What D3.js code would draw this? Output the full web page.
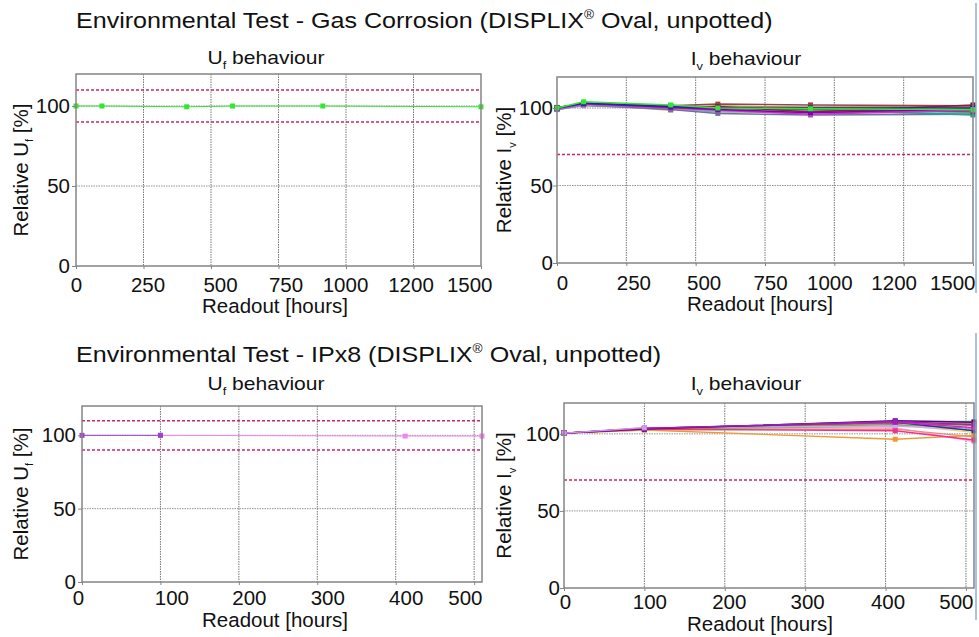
<!DOCTYPE html>
<html>
<head>
<meta charset="utf-8">
<script src="https://cdn.jsdelivr.net/npm/d3@7"></script>
<style>
  html, body { margin: 0; padding: 0; background: #fff; }
  svg { display: block; font-family: "Liberation Sans", Arial, Helvetica, sans-serif; }
</style>
</head>
<body>
<svg id="chart" width="979" height="637"></svg>
<script>
// ---------------- DATA ----------------
const titles = [
  "Environmental Test - Gas Corrosion (DISPLIX",
  "Environmental Test - IPx8 (DISPLIX"
];
const titleTail = " Oval, unpotted)";

const yTicks = [0, 50, 100];
const ufLimits = [90, 110];
const ivLimits = [70];

// Gas corrosion test
const gasReadouts = [0, 96, 410, 580, 914, 1500];
const gasXTicks = [0, 250, 500, 750, 1000, 1250, 1500];
const gasXTickLabels = ["0", "250", "500", "750", "1000", "1200", "1500"];

const gasUfColors = ["#33e633"];
const gasUfValues = [
  [100, 100, 99.5, 100, 100, 99.5]
];

const gasIvColors = ["#999999", "#66cccc", "#ccaa77", "#dd9944", "#999944", "#667799",
  "#339999", "#dd88aa", "#aa88cc", "#336633", "#994444", "#882244", "#cc33cc",
  "#8800aa", "#2222aa", "#33e633"];
const gasIvValues = [
  [99, 101.5, 99.5, 97.5, 97.5, 96.5],
  [99, 102, 100, 98, 98, 97],
  [100.5, 102.5, 98.5, 101.5, 100, 99],
  [100, 102.5, 99.5, 100.5, 100.5, 100.5],
  [100, 103, 100, 101, 100.5, 101],
  [99, 102, 99, 96.5, 95.5, 96],
  [99.5, 102.5, 101, 99.5, 99, 95.5],
  [100, 103, 101, 99, 98.5, 98],
  [99.5, 102, 100.5, 99.5, 98, 99],
  [100, 102.5, 101, 100, 99, 97.5],
  [100, 103, 101.5, 102.5, 102, 101.5],
  [100, 103, 101, 101, 97.5, 102],
  [99.5, 102.5, 100, 98.5, 96, 98.5],
  [100, 103, 100.5, 99, 97, 99.5],
  [100, 103, 101, 100, 100, 100],
  [100, 104, 102, 100, 99.5, 99]
];

// IPx8 test
const ipReadouts = [0, 100, 412, 510];
const ipXTicks = [0, 100, 200, 300, 400, 500];
const ipXTickLabels = ["0", "100", "200", "300", "400", "500"];

const ipUfColors = ["#ee88ee", "#9944cc"];
const ipUfValues = [
  [null, 100, 99.5, 99.5],
  [100, 100, null, null]
];

const ipIvColors = ["#ffaacc", "#ee8888", "#dddd66", "#ee9933", "#888888", "#66bb66",
  "#44aaaa", "#996633", "#aa9922", "#ccaaee", "#333388", "#ee3388", "#cc22cc",
  "#660077", "#9922bb", "#cc99ee"];
const ipIvValues = [
  [100.5, 103, 104, 95],
  [100.5, 102.5, 103, 98],
  [100.5, 103, 106, 101],
  [100.5, 102.5, 96.5, 99],
  [100.5, 103, 106, 103.5],
  [100.5, 103, 105, 106.5],
  [100.5, 103.5, 108, 108],
  [100.5, 103, 107, 105.5],
  [100.5, 103, 107, 107],
  [100.5, 104, 105, 102.5],
  [100.5, 103.5, 107.5, 102],
  [100.5, 103, 102, 96],
  [100.5, 103.5, 107.5, 104],
  [100.5, 103, 108.5, 107.5],
  [100.5, 103.5, 108, 106],
  [100.5, 104, null, null]
];

// ---------------- DRAWING ----------------
const svg = d3.select("#chart");
const FONT_TICK = 20.5, FONT_AX = 20.5, FONT_SUB = 18;
const LIMIT_COLOR = "#d0206e";
const WIDE = 1.14;   // headline font is wider than Liberation Sans

// Main titles
function addTitle(txt, y) {
  const t = svg.append("text").attr("transform", `translate(76,${y}) scale(${WIDE},1)`)
    .attr("font-size", 22).attr("fill", "#111");
  t.append("tspan").text(txt);
  t.append("tspan").attr("font-size", 12).attr("dy", -9).text("®");
  t.append("tspan").attr("dy", 9).text(titleTail);
}
addTitle(titles[0], 28);
addTitle(titles[1], 362);

function subText(sel, main, sub, rest, subSize, shift) {
  sel.append("tspan").text(main);
  sel.append("tspan").attr("font-size", subSize).attr("dy", shift).text(sub);
  sel.append("tspan").attr("dy", -shift).text(rest);
}

function panel(cfg) {
  const x = d3.scaleLinear().domain(cfg.xDomain).range([cfg.x0, cfg.x1]);
  const y = d3.scaleLinear().domain([0, 120]).range([cfg.y1, cfg.y0]);
  const g = svg.append("g");

  // grid
  g.append("g").selectAll("line").data(cfg.xTicks.filter(v => v > cfg.xDomain[0] && v < cfg.xDomain[1]))
    .join("line")
    .attr("x1", d => x(d)).attr("x2", d => x(d))
    .attr("y1", cfg.y0).attr("y2", cfg.y1)
    .attr("stroke", "#666").attr("stroke-width", 0.9).attr("stroke-dasharray", "1.5,1");
  g.append("g").selectAll("line").data(yTicks.filter(v => v > 0))
    .join("line")
    .attr("x1", cfg.x0).attr("x2", cfg.x1)
    .attr("y1", d => y(d)).attr("y2", d => y(d))
    .attr("stroke", "#888").attr("stroke-width", 0.9).attr("stroke-dasharray", "1.5,1");

  // limits
  g.append("g").selectAll("line").data(cfg.limits).join("line")
    .attr("x1", cfg.x0).attr("x2", cfg.x1)
    .attr("y1", d => y(d)).attr("y2", d => y(d))
    .attr("stroke", LIMIT_COLOR).attr("stroke-width", 1.5).attr("stroke-dasharray", "3,2");

  // series
  const line = d3.line().defined(d => d[1] != null).x(d => x(d[0])).y(d => y(d[1]));
  cfg.values.forEach((vals, i) => {
    const pts = cfg.readouts.map((r, j) => [r, vals[j]]);
    const col = cfg.colors[i];
    g.append("path").datum(pts).attr("d", line)
      .attr("fill", "none").attr("stroke", col).attr("stroke-width", cfg.lw);
    g.append("g").selectAll("rect").data(pts.filter(d => d[1] != null)).join("rect")
      .attr("x", d => x(d[0]) - cfg.ms / 2).attr("y", d => y(d[1]) - cfg.ms / 2)
      .attr("width", cfg.ms).attr("height", cfg.ms).attr("fill", col);
  });

  // frame
  g.append("rect").attr("x", cfg.x0).attr("y", cfg.y0)
    .attr("width", cfg.x1 - cfg.x0).attr("height", cfg.y1 - cfg.y0)
    .attr("fill", "none").attr("stroke", "#858585").attr("stroke-width", 1.5);

  // axes
  const n = cfg.xTicks.length;
  const xAxis = d3.axisBottom(x).tickValues(cfg.xTicks)
    .tickFormat((d, i) => cfg.xTickLabels[i]).tickSize(3).tickPadding(cfg.xPad);
  const xa = g.append("g").attr("transform", `translate(0,${cfg.y1})`).call(xAxis);
  xa.selectAll(".tick text")
    .attr("dx", (d, i) => i === n - 1 ? 0 : cfg.labelDx[i])
    .attr("text-anchor", (d, i) => i === n - 1 ? "end" : "middle")
    .attr("x", (d, i) => i === n - 1 ? cfg.lastEnd - x(d) : 0);
  const yAxis = d3.axisLeft(y).tickValues(yTicks).tickSize(4).tickPadding(cfg.yPad);
  const ya = g.append("g").attr("transform", `translate(${cfg.x0},0)`).call(yAxis);
  [xa, ya].forEach(a => {
    a.select(".domain").remove();
    a.selectAll("line").attr("stroke", "#858585");
    a.selectAll("text").attr("font-size", FONT_TICK).attr("fill", "#111")
      .attr("font-family", "Liberation Sans, Arial, sans-serif");
  });

  // subtitle
  const st = g.append("text").attr("transform", `translate(${cfg.subX},${cfg.subY}) scale(1.17,1)`)
    .attr("text-anchor", "middle").attr("font-size", FONT_SUB).attr("fill", "#111");
  subText(st, cfg.q, cfg.qs, " behaviour", 11, 5);

  // x label
  g.append("text").attr("x", cfg.xlX).attr("y", cfg.xlY).attr("text-anchor", "middle")
    .attr("font-size", FONT_AX).attr("fill", "#111").text("Readout [hours]");

  // y label
  const yl = g.append("text")
    .attr("transform", `translate(${cfg.ylX},${(cfg.y0 + cfg.y1) / 2}) rotate(-90)`)
    .attr("text-anchor", "middle").attr("font-size", FONT_AX).attr("fill", "#111");
  subText(yl, "Relative " + cfg.q, cfg.qs, " [%]", 11, 5);
}

panel({ x0: 76, x1: 481, y0: 74, y1: 266, xDomain: [0, 1500], xTicks: gasXTicks, xTickLabels: gasXTickLabels,
  readouts: gasReadouts, values: gasUfValues, colors: gasUfColors, limits: ufLimits, lw: 1, ms: 5,
  q: "U", qs: "f", subX: 266, subY: 64, xlX: 275, xlY: 313, ylX: 28, xPad: 8, yPad: 2,
  labelDx: [0, 4, 9, 7, -1, -3], lastEnd: 492 });
panel({ x0: 557, x1: 973, y0: 77, y1: 263, xDomain: [0, 1500], xTicks: gasXTicks, xTickLabels: gasXTickLabels,
  readouts: gasReadouts, values: gasIvValues, colors: gasIvColors, limits: ivLimits, lw: 1.5, ms: 5,
  q: "I", qs: "v", subX: 746, subY: 65, xlX: 760, xlY: 311, ylX: 511, xPad: 9, yPad: 0,
  labelDx: [5, 7, 8, 5, -5, -10], lastEnd: 975 });
panel({ x0: 82, x1: 482, y0: 406, y1: 582, xDomain: [0, 510], xTicks: ipXTicks, xTickLabels: ipXTickLabels,
  readouts: ipReadouts, values: ipUfValues, colors: ipUfColors, limits: ufLimits, lw: 1, ms: 5,
  q: "U", qs: "f", subX: 266, subY: 390, xlX: 275, xlY: 627, ylX: 28, xPad: 5, yPad: 2,
  labelDx: [-4, 11, 10, 10, 10], lastEnd: 482 });
panel({ x0: 564, x1: 974, y0: 403, y1: 588, xDomain: [0, 510], xTicks: ipXTicks, xTickLabels: ipXTickLabels,
  readouts: ipReadouts, values: ipIvValues, colors: ipIvColors, limits: ivLimits, lw: 1.3, ms: 5,
  q: "I", qs: "v", subX: 746, subY: 390, xlX: 760, xlY: 631, ylX: 511, xPad: 3, yPad: 0,
  labelDx: [1, 5, 4, 2, 2], lastEnd: 973 });

// thin blue edge lines at the right border
svg.append("g").selectAll("line").data([[3, 293], [333, 620]]).join("line")
  .attr("x1", 976).attr("x2", 976).attr("y1", d => d[0]).attr("y2", d => d[1])
  .attr("stroke", "#8ab0dc").attr("stroke-width", 1.5);
</script>
</body>
</html>
